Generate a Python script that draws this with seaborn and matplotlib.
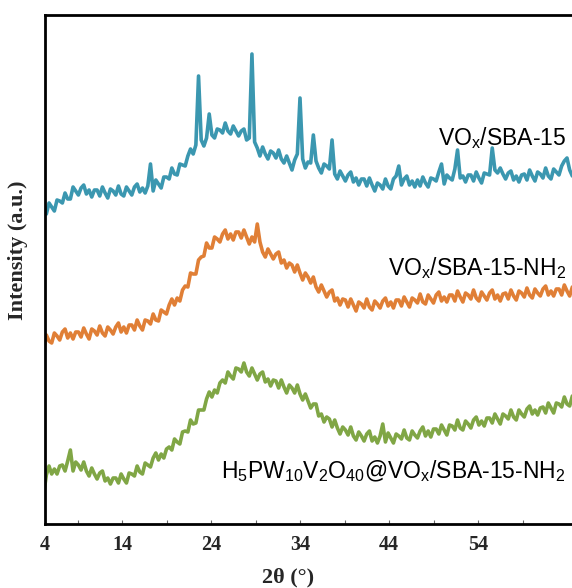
import numpy as np
import pandas as pd
import matplotlib
matplotlib.use("Agg")
import matplotlib.pyplot as plt
import seaborn as sns

# ---------------- data ----------------
# 2-theta scan positions (degrees), step 0.3
two_theta = np.round(np.arange(5.2, 64.65, 0.3), 2)

# intensities (a.u.), offset-stacked as in the figure
vox_sba15 = [
    314, 310, 321, 317, 313, 324, 323, 321, 331, 325,
    325, 337, 333, 329, 336, 339, 330, 334, 327, 334,
    334, 328, 337, 331, 326, 335, 333, 329, 338, 330,
    328, 337, 333, 329, 337, 340, 332, 336, 331, 338,
    360, 333, 344, 340, 336, 347, 347, 345, 356, 350,
    349, 360, 359, 358, 368, 375, 370, 379, 448, 384,
    378, 386, 410, 389, 386, 395, 394, 391, 401, 393,
    390, 398, 393, 388, 393, 395, 384, 386, 470, 382,
    376, 368, 377, 370, 365, 373, 371, 366, 374, 365,
    361, 368, 361, 354, 364, 370, 426, 365, 356, 362,
    361, 389, 363, 356, 351, 360, 358, 355, 384, 350,
    345, 353, 348, 343, 349, 352, 342, 346, 339, 345,
    345, 338, 346, 339, 333, 341, 339, 335, 345, 338,
    335, 345, 348, 358, 339, 345, 348, 339, 343, 337,
    344, 338, 347, 341, 337, 346, 345, 343, 352, 360,
    340, 349, 346, 344, 355, 374, 346, 348, 342, 349,
    349, 343, 352, 346, 341, 351, 350, 349, 376, 354,
    351, 356, 350, 345, 351, 353, 344, 348, 342, 349,
    350, 344, 354, 348, 343, 352, 350, 346, 356, 348,
    345, 355, 352, 349, 358, 363, 366, 354, 348,
]

vox_sba15_nh2 = [
    175, 189, 183, 181, 191, 188, 184, 192, 195, 186,
    191, 185, 192, 192, 187, 196, 190, 185, 195, 193,
    189, 198, 191, 188, 197, 194, 190, 197, 201, 192,
    197, 191, 199, 199, 194, 204, 198, 194, 204, 203,
    200, 210, 204, 203, 214, 212, 210, 219, 225, 219,
    226, 223, 234, 238, 237, 251, 250, 250, 264, 267,
    268, 281, 276, 276, 287, 285, 282, 290, 294, 285,
    290, 284, 292, 292, 286, 294, 287, 280, 287, 282,
    300, 282, 272, 267, 275, 270, 265, 270, 272, 261,
    264, 256, 261, 259, 252, 259, 251, 244, 251, 247,
    241, 247, 237, 232, 239, 233, 227, 232, 234, 223,
    226, 219, 225, 224, 217, 225, 219, 213, 222, 220,
    216, 225, 217, 214, 223, 220, 216, 223, 226, 218,
    222, 216, 224, 224, 218, 227, 222, 217, 226, 224,
    221, 230, 222, 220, 229, 225, 221, 229, 232, 223,
    227, 222, 229, 229, 223, 233, 227, 222, 231, 229,
    225, 234, 226, 223, 232, 228, 224, 231, 234, 225,
    229, 223, 230, 231, 225, 234, 228, 224, 233, 231,
    227, 236, 229, 226, 235, 231, 228, 235, 238, 229,
    233, 228, 235, 235, 229, 239, 233, 228, 237,
]

hpwv_vox_sba15_nh2 = [
    30, 49, 58, 50, 55, 50, 58, 59, 53, 63,
    74, 53, 62, 59, 54, 62, 53, 48, 56, 50,
    45, 51, 53, 43, 46, 40, 46, 46, 41, 50,
    45, 41, 51, 50, 48, 58, 52, 50, 61, 59,
    57, 66, 71, 64, 70, 66, 75, 77, 74, 85,
    82, 80, 92, 93, 92, 104, 100, 101, 114, 114,
    114, 125, 132, 127, 134, 131, 141, 144, 141, 152,
    148, 145, 156, 155, 152, 161, 152, 148, 156, 150,
    144, 150, 152, 142, 145, 138, 144, 143, 136, 144,
    137, 131, 139, 136, 131, 139, 130, 124, 130, 123,
    116, 120, 120, 108, 110, 102, 107, 105, 97, 104,
    96, 90, 97, 94, 89, 97, 88, 84, 92, 88,
    83, 90, 93, 83, 87, 81, 88, 100, 82, 91,
    86, 81, 90, 88, 85, 94, 86, 84, 93, 89,
    86, 93, 97, 88, 93, 87, 95, 95, 90, 99,
    94, 89, 99, 98, 94, 104, 96, 94, 103, 100,
    96, 104, 107, 99, 103, 98, 106, 106, 101, 110,
    105, 100, 110, 108, 105, 114, 107, 104, 114, 110,
    107, 115, 118, 110, 114, 109, 116, 117, 111, 121,
    116, 111, 121, 120, 117, 127, 120, 118, 128,
]

samples = ["VOx/SBA-15", "VOx/SBA-15-NH2", "H5PW10V2O40@VOx/SBA-15-NH2"]
sample_labels = [
    r"VO$_x$/SBA-15",
    r"VO$_x$/SBA-15-NH$_2$",
    r"H$_5$PW$_{10}$V$_2$O$_{40}$@VO$_x$/SBA-15-NH$_2$",
]
colors = ["#3b97b0", "#e07f36", "#80a645"]
x_tick_values = [14, 24, 34, 44, 54]
x_tick_labels = ["4", "14", "24", "34", "44", "54"]

# ---------------- build table ----------------
frames = []
for name, vals in zip(samples, [vox_sba15, vox_sba15_nh2, hpwv_vox_sba15_nh2]):
    assert len(vals) == len(two_theta)
    frames.append(pd.DataFrame({"two_theta": two_theta, "intensity": vals, "sample": name}))
df = pd.concat(frames, ignore_index=True)

# ---------------- figure ----------------
sns.set_style("white")
plt.rcParams["mathtext.default"] = "regular"

fig = plt.figure(figsize=(5.72, 5.88), dpi=100)
W, H = 572.0, 588.0
left_px, right_px, top_px, bot_px = 45.0, 600.0, 15.0, 524.0
ax = fig.add_axes([left_px / W, 1 - bot_px / H, (right_px - left_px) / W, (bot_px - top_px) / H])

sns.lineplot(data=df, x="two_theta", y="intensity", hue="sample", hue_order=samples,
             palette=colors, linewidth=2.6, legend=False, estimator=None,
             errorbar=None, ax=ax)

# x scale: 14 deg at px 122, 8.9 px per degree
px_per_deg = 8.9
x_left = 14 - (122 - left_px) / px_per_deg
x_right = 14 + (right_px - 122) / px_per_deg
ax.set_xlim(x_left, x_right)
ax.set_ylim(0, bot_px - top_px)

ax.set_xticks([x_left] + x_tick_values)
ax.set_xticklabels(x_tick_labels, family="Liberation Serif", weight="bold", fontsize=14.5)
ax.set_xticks([9, 19, 29, 39, 49, 59], minor=True)
ax.tick_params(axis="x", which="both", direction="in", length=3, width=0.8,
               color="#666666", pad=8, bottom=True)
ax.set_yticks([])
ax.set_xlabel("")
ax.set_ylabel("")

for side in ["left", "bottom", "top", "right"]:
    ax.spines[side].set_visible(True)
    ax.spines[side].set_color("black")
    ax.spines[side].set_linewidth(2.0)

# axis titles
fig.text(18 / W, 1 - 250 / H, "Intensity (a.u.)", rotation=90, ha="center", va="center",
         family="Liberation Serif", weight="bold", fontsize=16)
fig.text(288 / W, 1 - 577 / H, "2θ (°)", ha="center", va="center",
         family="Liberation Serif", weight="bold", fontsize=16)

# series labels
for lab, base in zip(sample_labels, [145, 275, 478]):
    fig.text(566 / W, 1 - base / H, lab, ha="right", va="baseline",
             family="Liberation Sans", fontsize=16.5, color="black")

fig.savefig("out.png", dpi=100)
